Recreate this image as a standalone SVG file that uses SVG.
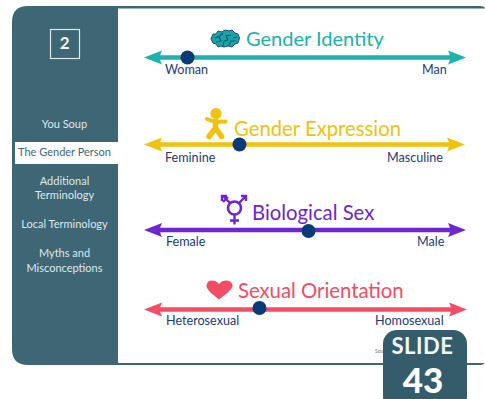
<svg xmlns="http://www.w3.org/2000/svg" width="485" height="399" viewBox="0 0 485 399">
<style>
text{font-family:"Lato","Open Sans",sans-serif}
.nav{font-size:11px;fill:#dfe9ec;text-anchor:middle}
.end{font-size:12.600px;fill:#1f3a78}
.title{font-size:20.300px}
.dot{fill:#0b3a78}
.ln{stroke-width:4.600;fill:none}
</style>
<rect width="485" height="399" fill="#fff"/>
<g id="frame">
<path d="M485 8Q484 6 480 6H28Q12 6 12 22V349Q12 365 28 365H480Q484 365 485 362Z" fill="#3e6674"/>
<path d="M118 8.500H485V363H118Z" fill="#fff"/>
</g>
<g id="sidebar">
<rect x="50.500" y="29.500" width="29" height="29" fill="none" stroke="#dfe9ec" stroke-width="1.200"/>
<text x="64.700" y="49" font-size="17" font-weight="700" fill="#f2f6f7" text-anchor="middle">2</text>
<text class="nav" x="64.500" y="128">You Soup</text>
<rect x="15" y="142" width="103" height="22" fill="#fff"/>
<text class="nav" x="64.500" y="156" style="fill:#3e6674">The Gender Person</text>
<text class="nav" x="64.500" y="185">Additional</text>
<text class="nav" x="64.500" y="199">Terminology</text>
<text class="nav" x="64.500" y="228">Local Terminology</text>
<text class="nav" x="64.500" y="257">Myths and</text>
<text class="nav" x="64.500" y="272">Misconceptions</text>
</g>
<g id="connectors">
<line class="ln" x1="155" y1="57.500" x2="455" y2="57.500" stroke="#1cb2ad"/>
<path d="M144 57.500L162 50.500Q158 57.500 162 64.500Z" fill="#1cb2ad"/>
<path d="M466 57.500L448 50.500Q452 57.500 448 64.500Z" fill="#1cb2ad"/>
<line class="ln" x1="155" y1="144.500" x2="455" y2="144.500" stroke="#efc20c"/>
<path d="M144 144.500L162 137.500Q158 144.500 162 151.500Z" fill="#efc20c"/>
<path d="M465 144.500L447 137.500Q451 144.500 447 151.500Z" fill="#efc20c"/>
<line class="ln" x1="155" y1="230" x2="455" y2="230" stroke="#6f25d0"/>
<path d="M144 230L162 223Q158 230 162 237Z" fill="#6f25d0"/>
<path d="M466 230L448 223Q452 230 448 237Z" fill="#6f25d0"/>
<line class="ln" x1="155" y1="309.500" x2="455" y2="309.500" stroke="#f24c66"/>
<path d="M144 309.500L162 302.500Q158 309.500 162 316.500Z" fill="#f24c66"/>
<path d="M467 309.500L449 302.500Q453 309.500 449 316.500Z" fill="#f24c66"/>
</g>
<g id="gender-identity">
<path d="M211 39L213 34L216 34L218 31L222 32L225 30L229 31L232 30L235 33L238 34L239.500 38L238 43L235 44L232 47L228 46L224 47L221 46L218 47L216 44L213 43Z" fill="#1aa6a5" stroke="#16507f" stroke-width="1"/>
<path d="M215 38L220 36L223 33M216 42L221 41L219 37M223 46L224 41L228 40L226 36L231 35M229 45L231 41L236 41M233 38L237 37" fill="none" stroke="#16507f" stroke-width="1.100"/>
<text class="title" x="246" y="45.500" fill="#1cb2ad" style="font-size:20px">Gender Identity</text>
<circle class="dot" cx="187.500" cy="57.500" r="7"/>
<text class="end" x="165" y="74">Woman</text>
<text class="end" x="422" y="74">Man</text>
</g>
<g id="gender-expression">
<circle cx="216" cy="113.500" r="5.500" fill="#efc20c"/>
<path d="M207 119L215 122L225.500 121.500" fill="none" stroke="#efc20c" stroke-width="4" stroke-linecap="round" stroke-linejoin="round"/>
<path d="M215.500 121V128L209 136.500M215.500 128L221.500 136.500" fill="none" stroke="#efc20c" stroke-width="5.500" stroke-linecap="round" stroke-linejoin="round"/>
<text class="title" x="234" y="135.500" fill="#efc20c">Gender Expression</text>
<circle class="dot" cx="239.500" cy="144.500" r="7"/>
<text class="end" x="165" y="162">Feminine</text>
<text class="end" x="387" y="162">Masculine</text>
</g>
<g id="biological-sex">
<circle cx="234.500" cy="208" r="6.500" fill="none" stroke="#6f25d0" stroke-width="2.600"/>
<path d="M234.500 214.500V224.500M230 220.500H239M230 203L224 197M239 203L245 197M241 196H246V201M222 201V196H227M223 202L228 197" fill="none" stroke="#6f25d0" stroke-width="2.400"/>
<text class="title" x="252" y="220" fill="#6f25d0">Biological Sex</text>
<circle class="dot" cx="308.500" cy="231" r="7"/>
<text class="end" x="166" y="246">Female</text>
<text class="end" x="417" y="246">Male</text>
</g>
<g id="sexual-orientation">
<path d="M219 299.500C209 292 206 288 206.500 285C207.500 279.500 215 279 219 284C223 279 231 279.500 232.500 285C233 288 229 292 219 299.500Z" fill="#f24c66"/>
<text class="title" x="238" y="297.500" fill="#f24c66">Sexual Orientation</text>
<circle class="dot" cx="259.500" cy="308" r="7"/>
<text class="end" x="166" y="325">Heterosexual</text>
<text class="end" x="375" y="325">Homosexual</text>
<text x="375" y="353" font-size="5" fill="#777">Sou</text>
</g>
<g id="slide-badge">
<rect x="383" y="330" width="84" height="80" rx="14" fill="#355c6a"/>
<text x="422.500" y="354" font-size="22" font-weight="700" fill="#f2f6f7" text-anchor="middle" letter-spacing=".5">SLIDE</text>
<text x="423" y="393" font-size="35" font-weight="900" fill="#fff" text-anchor="middle">43</text>
</g>
</svg>
